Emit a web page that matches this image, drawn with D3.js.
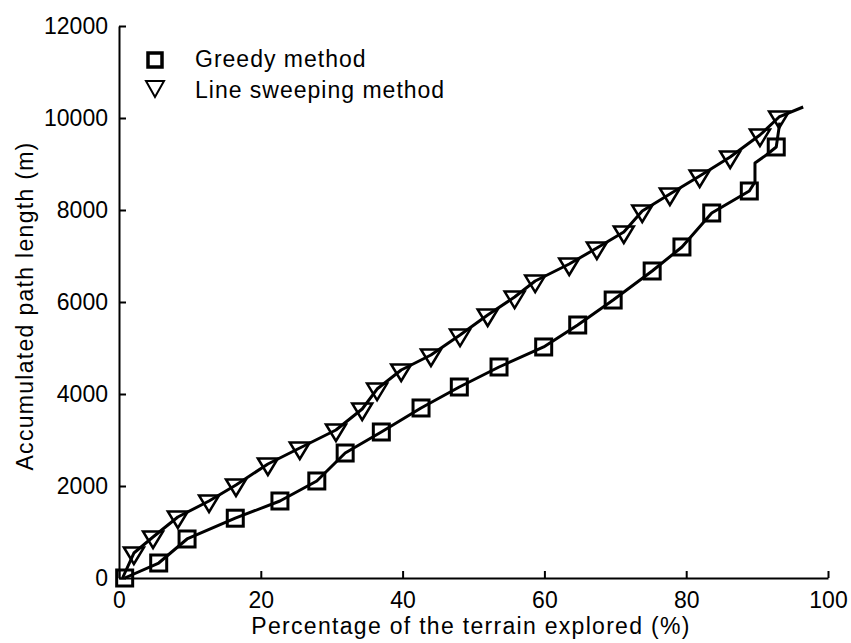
<!DOCTYPE html>
<html>
<head>
<meta charset="utf-8">
<script src="https://cdn.jsdelivr.net/npm/d3@7"></script>
<style>
  html, body { margin: 0; padding: 0; background: #fff; }
  svg { display: block; }
  text { font-family: "Liberation Sans", Arial, sans-serif; fill: #000; }
</style>
</head>
<body>
<script>
// ---------------- data ----------------
const xTicks = [0, 20, 40, 60, 80, 100];
const yTicks = [0, 2000, 4000, 6000, 8000, 10000, 12000];
const seriesNames = ["Greedy method", "Line sweeping method"];

// Greedy method markers (percentage explored, accumulated path length m)
const greedyX = [0.8, 5.6, 9.6, 16.4, 22.7, 27.9, 31.9, 37.0, 42.6, 48.0, 53.6, 59.9, 64.7, 69.7, 75.2, 79.4, 83.6, 88.9, 92.7];
const greedyY = [0, 326, 848, 1300, 1674, 2109, 2717, 3174, 3696, 4152, 4587, 5022, 5500, 6043, 6674, 7196, 7935, 8413, 9370];
// additional vertices of the greedy curve between markers
const greedyLineX = [89.7, 89.7, 91.3, 93.2];
const greedyLineY = [8609, 9022, 9196, 9900];

// Line sweeping method markers
const sweepX = [2.1, 4.8, 8.3, 12.7, 16.5, 21.0, 25.5, 30.6, 34.3, 36.4, 39.8, 44.0, 48.1, 52.0, 55.8, 58.7, 63.5, 67.4, 71.2, 73.8, 77.7, 81.9, 86.2, 90.4, 93.1];
const sweepY = [543, 891, 1326, 1674, 2022, 2478, 2826, 3217, 3674, 4108, 4522, 4848, 5282, 5717, 6108, 6456, 6826, 7174, 7522, 7978, 8348, 8739, 9152, 9630, 10022];
// additional vertices of the sweeping curve (start and end of the line)
const sweepLineX = [0.5, 96.5];
const sweepLineY = [0, 10239];

// ---------------- layout ----------------
const W = 851, H = 643;
const svg = d3.select("body").append("svg").attr("width", W).attr("height", H);

const x = d3.scaleLinear().domain([0, 100]).range([119, 828]);
const y = d3.scaleLinear().domain([0, 12000]).range([578, 26]);

const FS = 23;

// axes
const gx = svg.append("g").attr("transform", `translate(0,${y(0)})`)
  .call(d3.axisBottom(x).tickValues(xTicks).tickFormat(d3.format("d"))
    .tickSizeInner(-7).tickSizeOuter(0).tickPadding(14));
const gy = svg.append("g").attr("transform", `translate(${x(0)},0)`)
  .call(d3.axisLeft(y).tickValues(yTicks).tickFormat(d3.format("d"))
    .tickSizeInner(-7).tickSizeOuter(0).tickPadding(11));
[gx, gy].forEach(g => {
  g.select(".domain").attr("stroke", "#000").attr("stroke-width", 2);
  g.selectAll(".tick line").attr("stroke", "#000").attr("stroke-width", 2);
  g.selectAll(".tick text").attr("font-size", FS).attr("font-family", "Liberation Sans, Arial, sans-serif").attr("fill", "#000");
});

// axis titles
svg.append("text").attr("x", 471).attr("y", 634).attr("text-anchor", "middle")
  .attr("font-size", FS).attr("letter-spacing", 1.3)
  .text("Percentage of the terrain explored (%)");
svg.append("text").attr("transform", `translate(33,306) rotate(-90)`).attr("text-anchor", "middle")
  .attr("font-size", FS).attr("letter-spacing", 1.3)
  .text("Accumulated path length (m)");

// lines
function pts(mx, my, lx, ly) {
  const a = mx.map((v, i) => [v, my[i]]).concat(lx.map((v, i) => [v, ly[i]]));
  a.sort((p, q) => p[0] - q[0] || p[1] - q[1]);
  return a;
}
const line = d3.line().x(d => x(d[0])).y(d => y(d[1]));
const plot = svg.append("g");
plot.append("path").datum(pts(greedyX, greedyY, greedyLineX, greedyLineY))
  .attr("d", line).attr("fill", "none").attr("stroke", "#000").attr("stroke-width", 3).attr("stroke-linejoin", "round");
plot.append("path").datum(pts(sweepX, sweepY, sweepLineX, sweepLineY))
  .attr("d", line).attr("fill", "none").attr("stroke", "#000").attr("stroke-width", 3).attr("stroke-linejoin", "round");

// markers
const sq = 16;
plot.selectAll(".sq").data(greedyX.map((v, i) => [v, greedyY[i]])).join("rect")
  .attr("x", d => x(d[0]) - sq / 2).attr("y", d => y(d[1]) - sq / 2)
  .attr("width", sq).attr("height", sq)
  .attr("fill", "none").attr("stroke", "#000").attr("stroke-width", 3);
const tri = "M-10,-5.5L10,-5.5L0,11Z";
plot.selectAll(".tri").data(sweepX.map((v, i) => [v, sweepY[i]])).join("path")
  .attr("transform", d => `translate(${x(d[0])},${y(d[1])})`)
  .attr("d", tri).attr("fill", "none").attr("stroke", "#000").attr("stroke-width", 2.5);

// legend
const lg = svg.append("g");
lg.append("rect").attr("x", 148).attr("y", 53).attr("width", 14).attr("height", 14)
  .attr("fill", "none").attr("stroke", "#000").attr("stroke-width", 3.5);
lg.append("path").attr("transform", "translate(155,88)").attr("d", "M-9,-7L9,-7L0,9Z")
  .attr("fill", "none").attr("stroke", "#000").attr("stroke-width", 2);
lg.append("text").attr("x", 195).attr("y", 67).attr("font-size", FS).attr("letter-spacing", 1).text(seriesNames[0]);
lg.append("text").attr("x", 195).attr("y", 98).attr("font-size", FS).attr("letter-spacing", 1).text(seriesNames[1]);
</script>
</body>
</html>
